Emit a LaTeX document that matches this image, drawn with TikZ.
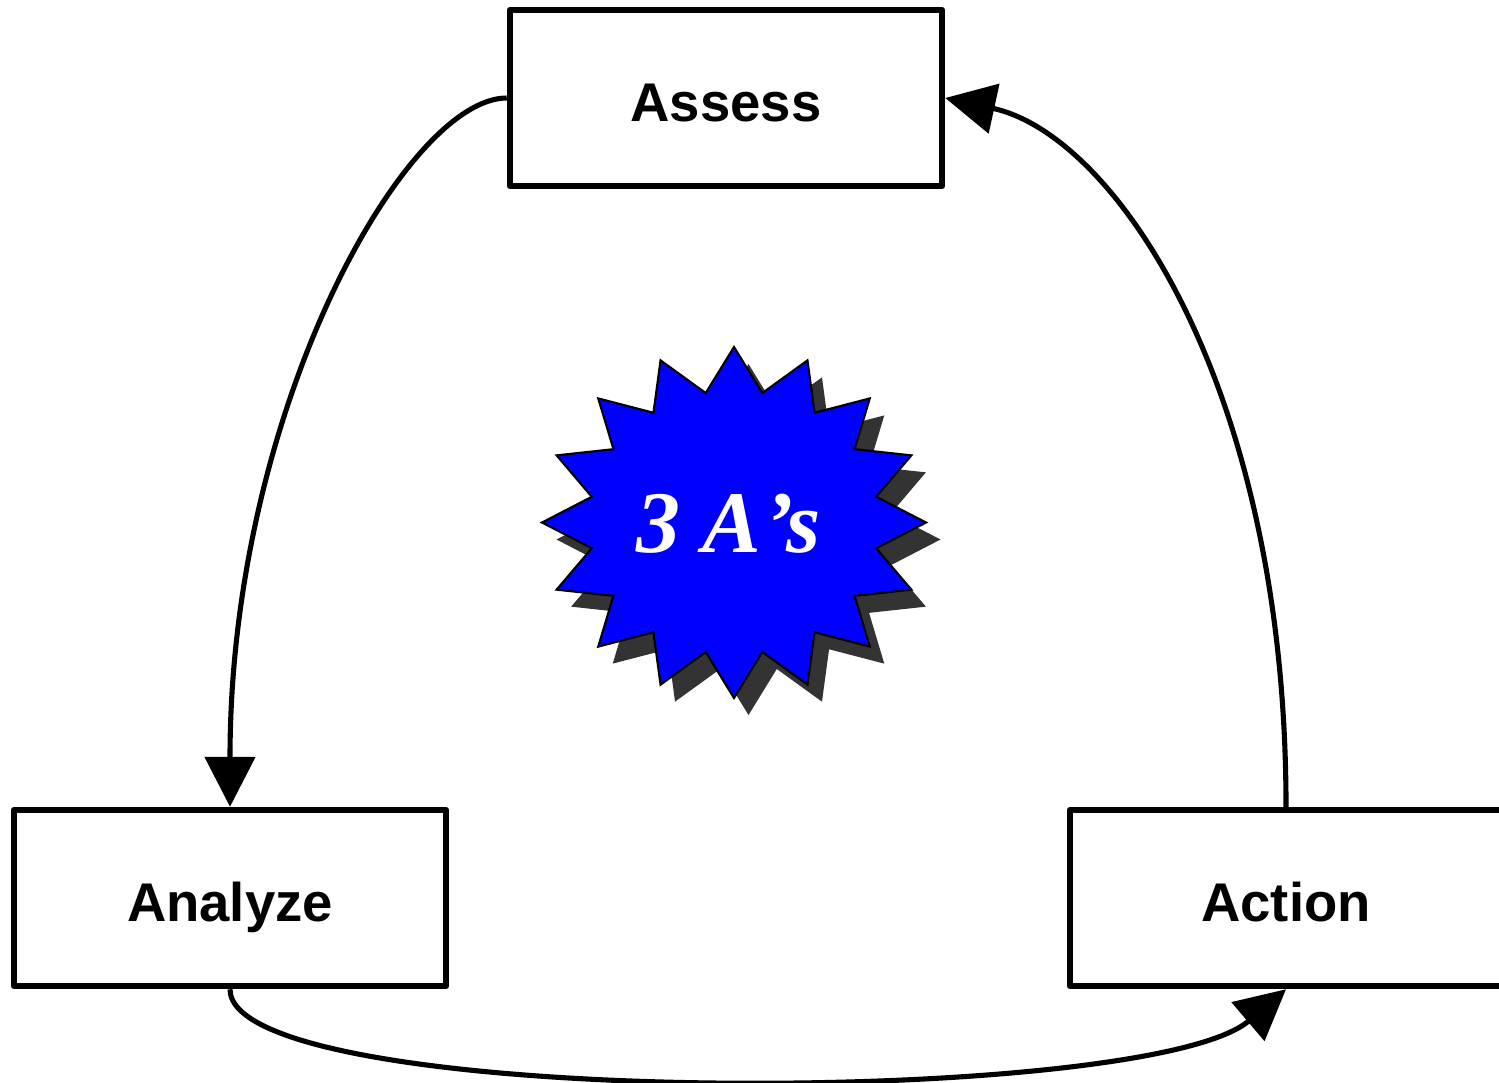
\documentclass[tikz,border=0pt]{standalone}
\usepackage{fontspec}
\setmainfont{Liberation Sans}
\newfontfamily\serifbi{Liberation Serif}
\usetikzlibrary{arrows.meta}
\definecolor{shadowc}{HTML}{333333}
\definecolor{starblue}{HTML}{0000FF}
\tikzset{
  box/.style={draw, line width=1.85pt, line join=round, fill=white,
    minimum width=4.32cm, minimum height=1.76cm, inner sep=0pt,
    text height=0.56cm, text depth=0.10cm,
    font=\bfseries\fontsize{15.5}{18}\selectfont},
  conn/.style={line width=1.45pt, -{Triangle[length=5mm,width=5mm]}},
  starp/.pic={
    \path[pic actions] (0,1.755)
      \foreach \a in {0,22.5,...,315} {
        -- ({1.45*cos(90-\a-11.25)},{1.32*sin(90-\a-11.25)})
        -- ({1.92*cos(90-\a-22.5)},{1.755*sin(90-\a-22.5)})
      }
      -- ({1.45*cos(90-348.75)},{1.32*sin(90-348.75)}) -- cycle;
  }
}
\begin{document}
\begin{tikzpicture}[x=1cm,y=1cm]
\clip (0,0) rectangle (14.99,-10.82);
\fill[white] (0,0) rectangle (14.99,-10.82);

% boxes
\node[box] (assess)  at (7.26,-0.98) {Assess};
\node[box] (analyze) at (2.30,-8.98) {Analyze};
\node[box] (action)  at (12.86,-8.98) {Action};

% starburst with shadow
\pic[fill=shadowc] at (7.485,-5.395) {starp};
\pic[fill=starblue, draw=black, line width=0.6pt, line join=miter] at (7.34,-5.225) {starp};
\node[text=white, anchor=base, inner sep=0pt,
      font=\serifbi\bfseries\itshape\fontsize{25}{30}\selectfont] (label) at (7.29,-5.525) {3 A\kern0.03em’s};

% connectors
\draw[conn] (assess.west) .. controls +(-1.0,0) and +(0,4.0) .. (analyze.north);
\draw[conn] (action.north) .. controls +(0,4.2) and +(1.7,-0.37) .. (assess.east);
\draw[conn] (analyze.south) .. controls +(0,-1.2) and +(-1.4,-1.19) .. (action.south);
\end{tikzpicture}
\end{document}
